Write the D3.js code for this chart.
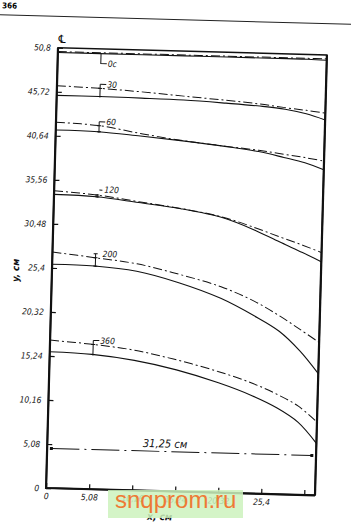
<!DOCTYPE html>
<html lang="ru">
<head>
<meta charset="UTF-8">
<title>y, см</title>
<script src="https://d3js.org/d3.v7.min.js"></script>
<style>
  body { margin: 0; background: #fff; }
  svg { display: block; }
  .lbl, .axis text {
    font-family: "Liberation Sans Narrow", "DejaVu Sans Condensed", sans-serif;
    font-style: italic;
    fill: #111;
  }
  .axis text { font-size: 8.5px; }
  .axis line { stroke: #111; stroke-width: 1.2; }
</style>
</head>
<body>
<div id="chart"></div>
<script>
// x positions (cm) where every curve was read
const xGrid = [0, 5, 10, 15, 20, 24, 27, 29.5, 31.75];

const times = ["0c", "30", "60", "120", "200", "360"];

// solid curves
const solid0 = [50.25, 50.25, 50.25, 50.25, 50.25, 50.25, 50.25, 50.25, 50.2];
const solid30 = [45.3, 45.3, 45.25, 45.16, 44.93, 44.7, 44.42, 43.95, 43.3];
const solid60 = [41.3, 41.24, 40.87, 40.45, 39.95, 39.45, 38.85, 38.3, 37.55];
const solid120 = [33.88, 33.74, 33.2, 32.62, 31.7, 30.3, 29.0, 27.95, 26.95];
const solid200 = [25.82, 25.75, 25.27, 24.08, 22.41, 20.5, 18.8, 16.6, 14.03];
const solid360 = [15.72, 15.55, 14.99, 14.03, 12.67, 11.29, 9.95, 8.39, 6.0];

// dash-dot curves
const dash0 = [50.35, 50.35, 50.35, 50.35, 50.35, 50.35, 50.35, 50.35, 50.35];
const dash30 = [46.42, 46.25, 45.97, 45.61, 45.26, 44.94, 44.6, 44.35, 44.1];
const dash60 = [42.2, 41.95, 41.17, 40.48, 39.97, 39.6, 39.22, 38.9, 38.56];
const dash120 = [34.3, 33.95, 33.3, 32.65, 31.78, 30.6, 29.6, 28.8, 28.0];
const dash200 = [27.22, 26.71, 26.13, 25.06, 23.75, 22.17, 20.57, 19.05, 17.64];
const dash360 = [17.07, 16.71, 16.16, 15.18, 13.95, 12.72, 11.5, 10.22, 8.44];

const solidCurves = [solid0, solid30, solid60, solid120, solid200, solid360];
const dashCurves = [dash0, dash30, dash60, dash120, dash200, dash360];

const yTicks = [0, 5.08, 10.16, 15.24, 20.32, 25.4, 30.48, 35.56, 40.64, 45.72, 50.8];
const yTickLabels = ["0", "5,08", "10,16", "15,24", "20,32", "25,4", "30,48", "35,56", "40,64", "45,72", "50,8"];
const xTicks = [0, 5.08, 10.16, 15.24, 20.32, 25.4, 30.48];
const xTickLabels = ["0", "5,08", "10,16", "15,24", "20,32", "25,4", ""];

const spanValue = 31.25;   // размерная линия
const spanLevel = 4.58;
const leaderX = 5.1;
const leaderKind = ["down", "arm", "arm", "dash", "none", "arm"];

const W = 269, H = 440.5;

const svg = d3.select("#chart").append("svg")
  .attr("width", 351).attr("height", 522);

// the scanned page is slightly turned
const g = svg.append("g")
  .attr("transform", "translate(58,47.7) rotate(1.55)");

const x = d3.scaleLinear().domain([0, 31.75]).range([0, W]);
const y = d3.scaleLinear().domain([0, 50.8]).range([H, 0]);

// page number and rule
g.append("text").attr("x", -57).attr("y", -38)
  .style("font-family", "DejaVu Sans Condensed, sans-serif")
  .style("font-weight", "bold").style("font-size", "8px").text("366");
g.append("line").attr("x1", -62).attr("x2", 300).attr("y1", -31.3).attr("y2", -31.3)
  .attr("stroke", "#222").attr("stroke-width", 1);

// axes
g.append("g").attr("class", "axis")
  .call(d3.axisLeft(y).tickValues(yTicks).tickFormat((d, i) => yTickLabels[i])
    .tickSizeInner(-5).tickSizeOuter(0).tickPadding(7))
  .call(a => a.select(".domain").remove());

g.append("g").attr("class", "axis")
  .attr("transform", `translate(0,${H})`)
  .call(d3.axisBottom(x).tickValues(xTicks).tickFormat((d, i) => xTickLabels[i])
    .tickSizeInner(-5).tickSizeOuter(0).tickPadding(5))
  .call(a => a.select(".domain").remove());

// frame
g.append("rect").attr("width", W).attr("height", H)
  .attr("fill", "none").attr("stroke", "#111").attr("stroke-width", 1.5);
g.append("path").attr("d", `M0,0V${H}H${W}`)
  .attr("fill", "none").attr("stroke", "#111").attr("stroke-width", 2.2);
g.append("line").attr("x1", W).attr("x2", W).attr("y1", 0).attr("y2", H)
  .attr("stroke", "#111").attr("stroke-width", 2.2);

// centreline mark and axis titles
g.append("text").attr("x", 4).attr("y", -5).attr("text-anchor", "middle")
  .style("font-family", "DejaVu Sans, sans-serif").style("font-size", "11px").text("℄");
g.append("text").attr("class", "lbl")
  .attr("transform", `translate(-33,${y(25)}) rotate(-90)`)
  .attr("text-anchor", "middle").style("font-size", "9.5px").style("font-weight", "bold")
  .text("y, см");
g.append("text").attr("class", "lbl")
  .attr("x", x(13.5)).attr("y", H + 29).attr("text-anchor", "middle")
  .style("font-size", "10px").style("font-weight", "bold").text("x, см");

// curves
const line = d3.line()
  .x((d, i) => x(xGrid[i]))
  .y(d => y(d))
  .curve(d3.curveCatmullRom.alpha(0.5));

g.selectAll("path.solid").data(solidCurves).enter().append("path")
  .attr("class", "solid").attr("d", line)
  .attr("fill", "none").attr("stroke", "#111").attr("stroke-width", 1.1);

g.selectAll("path.dash").data(dashCurves).enter().append("path")
  .attr("class", "dash").attr("d", line)
  .attr("fill", "none").attr("stroke", "#111").attr("stroke-width", 1)
  .attr("stroke-dasharray", "9,3,2,3");

// leaders with the time labels
times.forEach((t, i) => {
  const lx = x(leaderX);
  const ys = y(d3.scaleLinear().domain(xGrid).range(solidCurves[i])(leaderX));
  const yd = y(d3.scaleLinear().domain(xGrid).range(dashCurves[i])(leaderX));
  const kind = leaderKind[i];
  const lg = g.append("g").attr("stroke", "#111").attr("stroke-width", 1);
  if (kind === "down") {
    lg.append("path").attr("fill", "none").attr("d", `M${lx},${ys}V${ys + 10}H${lx + 6}`);
    g.append("text").attr("class", "lbl").attr("x", lx + 7).attr("y", ys + 13)
      .style("font-size", "8.5px").text(t);
    return;
  }
  const top = kind === "dash" ? yd - 1 : yd - 4;
  lg.append("line").attr("x1", lx).attr("x2", lx).attr("y1", top).attr("y2", ys + 1);
  [yd, ys].forEach(v => lg.append("line")
    .attr("x1", lx - 2).attr("x2", lx + 2).attr("y1", v).attr("y2", v));
  if (kind === "arm") {
    lg.append("line").attr("x1", lx).attr("x2", lx + 6).attr("y1", top).attr("y2", top);
    g.append("text").attr("class", "lbl").attr("x", lx + 7).attr("y", top + 3)
      .style("font-size", "8.5px").text(t);
  } else if (kind === "dash") {
    lg.append("line").attr("x1", lx + 2).attr("x2", lx + 5).attr("y1", top - 4).attr("y2", top - 4);
    g.append("text").attr("class", "lbl").attr("x", lx + 7).attr("y", top - 1.5)
      .style("font-size", "8.5px").text(t);
  } else {
    lg.append("line").attr("x1", lx - 2).attr("x2", lx + 2).attr("y1", top).attr("y2", top);
    g.append("text").attr("class", "lbl").attr("x", lx + 7).attr("y", top + 3)
      .style("font-size", "8.5px").text(t);
  }
});

// 31,25 см dimension line
const sy = y(spanLevel);
g.append("line").attr("x1", x(0.5)).attr("x2", x(spanValue)).attr("y1", sy).attr("y2", sy)
  .attr("stroke", "#111").attr("stroke-width", 1).attr("stroke-dasharray", "28,5,2,5");
[0.5, spanValue].forEach(v => g.append("rect")
  .attr("x", x(v) - 1.5).attr("y", sy - 1.5).attr("width", 3).attr("height", 3).attr("fill", "#111"));
g.append("text").attr("class", "lbl").attr("x", x(13.9)).attr("y", sy - 4)
  .attr("text-anchor", "middle").style("font-size", "11px")
  .text(d3.format(".2f")(spanValue).replace(".", ",") + " см");

// watermark
svg.append("rect").attr("x", 108).attr("y", 490).attr("width", 135).attr("height", 28)
  .attr("fill", "#cdf2bd").attr("opacity", 0.85);
svg.append("text").attr("x", 115).attr("y", 508)
  .style("font-family", "Liberation Sans, Arial, sans-serif").style("font-size", "24px")
  .attr("fill", "#ee7a35").text("snqprom.ru");
</script>
</body>
</html>
